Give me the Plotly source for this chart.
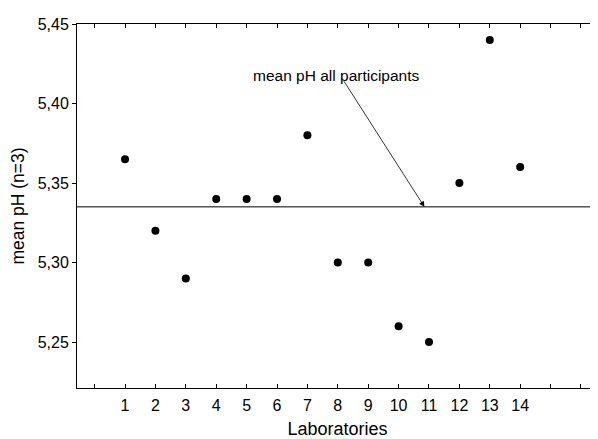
import plotly.graph_objects as go

labs = list(range(1, 15))
ph = [5.365, 5.32, 5.29, 5.34, 5.34, 5.34, 5.38, 5.30, 5.30, 5.26, 5.25, 5.35, 5.44, 5.36]
mean_ph = 5.335
tick_vals = list(range(0, 17))
tick_text = [str(v) if 1 <= v <= 14 else "" for v in tick_vals]
y_ticks = [5.25, 5.30, 5.35, 5.40, 5.45]

FONT = "Liberation Sans, Arial"

fig = go.Figure()
fig.add_trace(go.Scatter(x=labs, y=ph, mode="markers",
                         marker=dict(color="black", size=8), showlegend=False))
fig.add_shape(type="line", xref="paper", yref="y", x0=0, x1=1, y0=mean_ph, y1=mean_ph,
              line=dict(color="black", width=1))
fig.add_annotation(x=10.85, y=mean_ph, ax=8.17, ay=5.415, axref="x", ayref="y",
                   text="", showarrow=True, arrowhead=2, arrowsize=1.4, arrowwidth=0.8,
                   arrowcolor="black", standoff=0)
fig.add_annotation(xref="paper", yref="paper", x=(336 - 77) / 521, y=1 + (23.5 - 65) / 364.5,
                   text="mean pH all participants", showarrow=False,
                   font=dict(size=15.5, color="black", family=FONT))

fig.update_layout(
    width=590, height=431,
    margin=dict(l=69, r=0, t=15.5, b=51, pad=0),
    plot_bgcolor="white", paper_bgcolor="white",
    separators=",.",
    font=dict(family=FONT, size=16, color="black"),
)
fig.update_xaxes(range=[-0.58, 16.56], tickvals=tick_vals, ticktext=tick_text,
                 ticks="inside", ticklen=4, tickcolor="black", showline=True,
                 linecolor="black", linewidth=1, mirror="ticks", showgrid=False, zeroline=False,
                 tickfont=dict(size=16), ticklabelstandoff=3,
                 title=dict(text="Laboratories", font=dict(size=18), standoff=12))
fig.update_yaxes(range=[5.2211, 5.45], tickvals=y_ticks, tickformat=".2f",
                 ticks="outside", ticklen=4, tickcolor="black", showline=True,
                 linecolor="black", linewidth=1, showgrid=False, zeroline=False,
                 tickfont=dict(size=16),
                 title=dict(text="mean pH (n=3)", font=dict(size=17.5), standoff=15))
fig.write_html("out.html")
